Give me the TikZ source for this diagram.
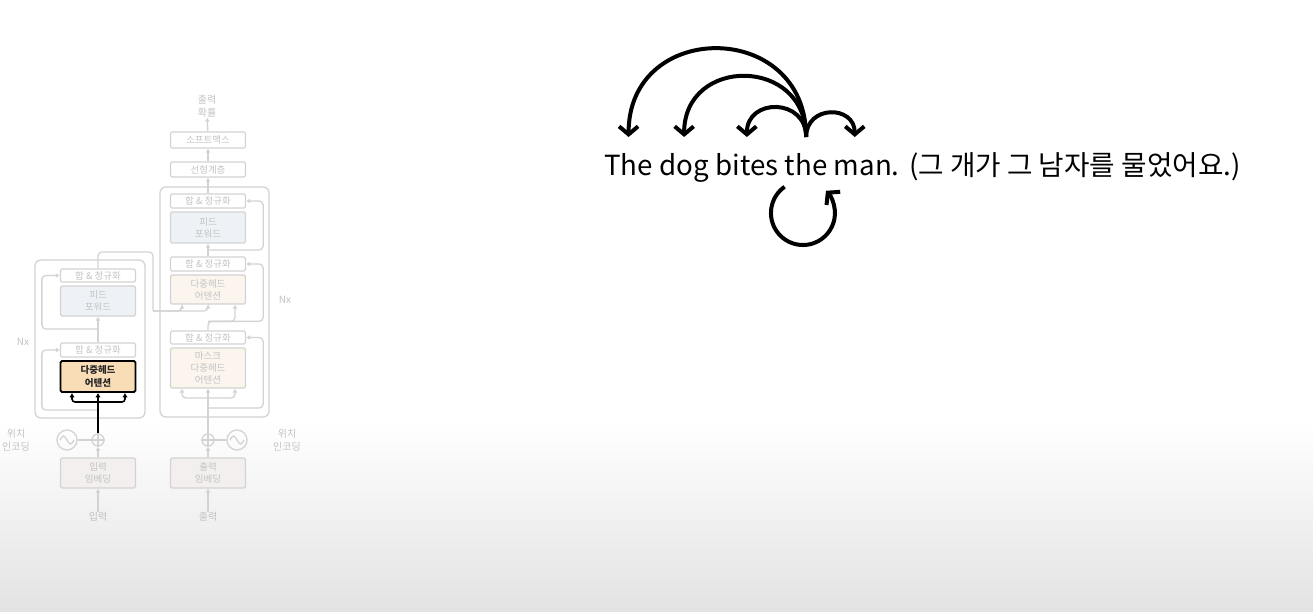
\documentclass[tikz,border=0pt]{standalone}
\usepackage{fontspec}
\setmainfont{Noto Sans CJK KR}
\usepackage{tikz}
\usetikzlibrary{positioning}
\usetikzlibrary {arrows.meta}

\definecolor{fadeline}{HTML}{D3D3D3}
\definecolor{fadetext}{HTML}{C3C3C3}
\definecolor{attnfill}{HTML}{F9DDB6}
\definecolor{ffill}{HTML}{EEF2F7}
\definecolor{dattnfill}{HTML}{FBF5EE}
\definecolor{embfill}{HTML}{F3EFEF}
\definecolor{bgbottom}{HTML}{E3E3E3}

\tikzset{
    blk/.style={draw=fadeline, line width=1.3pt, rounded corners=1.5pt, minimum width=75pt,
        inner sep=0pt, align=center, text=fadetext, fill=white,
        font=\fontsize{9.5}{12}\selectfont},
    fline/.style={draw=fadeline, line width=1.3pt, rounded corners=4pt},
    farr/.style={fline, -{Latex[length=4pt,width=5pt]}},
    harr/.style={draw=black, line width=1.6pt, rounded corners=3pt, -{Latex[length=4.5pt,width=5.5pt]}},
    ftxt/.style={text=fadetext, align=center, inner sep=0pt, font=\fontsize{10}{13.5}\selectfont},
    word/.style={inner sep=0pt, font=\fontsize{27.7}{32}\selectfont},
    bigarr/.style={line width=4pt, -{Straight Barb[length=8pt,width=19pt]}},
}

\begin{document}
\begin{tikzpicture}[x=1pt, y=1pt]
    \useasboundingbox (0,0) rectangle (1313,611);
    \fill[white] (0,0) rectangle (1313,611);
    \shade[top color=white, bottom color=bgbottom] (0,0) rectangle (1313,190);

    %% encoder
    \node[draw=fadeline, line width=1.3pt, rounded corners=6pt, minimum width=110pt, minimum height=158pt] (encbox) at (90,272) {};
    \node[blk, fill=embfill, minimum height=30pt] (eemb) at (98,138) {입력\\임베딩};
    \node[circle, draw=fadeline, line width=1.3pt, minimum size=12pt, inner sep=0pt] (eadd) at (98,171) {};
    \node[circle, draw=fadeline, line width=1.3pt, minimum size=20pt, inner sep=0pt] (epos) at (67,171) {};
    \node[blk, draw=black, line width=1.8pt, fill=attnfill, text=black!85, minimum height=31pt,
          font=\fontsize{9.5}{12.5}\selectfont\bfseries] (eattn) at (98,234.5) {다중헤드\\어텐션};
    \node[blk, minimum height=14pt] (enorm1) at (98,261) {합 \& 정규화};
    \node[blk, fill=ffill, minimum height=30pt] (eff) at (98,310) {피드\\포워드};
    \node[blk, minimum height=13pt] (enorm2) at (98,335.5) {합 \& 정규화};
    \node[ftxt] (inlbl) at (98,94) {입력};
    \node[ftxt] (eposlbl) at (16,171) {위치\\인코딩};
    \node[ftxt] (enx) at (23,269) {Nx};

    %% decoder
    \node[draw=fadeline, line width=1.3pt, rounded corners=6pt, minimum width=109pt, minimum height=230pt] (decbox) at (214.5,309) {};
    \node[blk, fill=embfill, minimum height=30pt] (demb) at (208,138) {출력\\임베딩};
    \node[circle, draw=fadeline, line width=1.3pt, minimum size=12pt, inner sep=0pt] (dadd) at (208,171) {};
    \node[circle, draw=fadeline, line width=1.3pt, minimum size=20pt, inner sep=0pt] (dpos) at (237,171) {};
    \node[blk, fill=dattnfill, minimum height=40pt] (dmask) at (208,243) {마스크\\다중헤드\\어텐션};
    \node[blk, minimum height=13pt] (dnorm1) at (208,273.5) {합 \& 정규화};
    \node[blk, fill=dattnfill, minimum height=29pt] (dattn) at (208,321.5) {다중헤드\\어텐션};
    \node[blk, minimum height=14pt] (dnorm2) at (208,347) {합 \& 정규화};
    \node[blk, fill=ffill, minimum height=31pt] (dff) at (208,383.5) {피드\\포워드};
    \node[blk, minimum height=14pt] (dnorm3) at (208,410) {합 \& 정규화};
    \node[blk, minimum height=15pt] (dlin) at (208,441.5) {선형계층};
    \node[blk, minimum height=16pt] (dsoft) at (208,471) {소프트맥스};
    \node[ftxt] (prob) at (207,505) {출력\\확률};
    \node[ftxt] (outlbl) at (208,94) {출력};
    \node[ftxt] (dposlbl) at (287,171) {위치\\인코딩};
    \node[ftxt] (dnx) at (285,311) {Nx};

    % sine marks, plus signs
    \draw[fadeline, line width=1.3pt] ([xshift=-7pt]epos.center) sin +(3.5,4) cos +(3.5,-4) sin +(3.5,-4) cos +(3.5,4);
    \draw[fadeline, line width=1.3pt] ([xshift=-7pt]dpos.center) sin +(3.5,4) cos +(3.5,-4) sin +(3.5,-4) cos +(3.5,4);
    \draw[fadeline, line width=1.1pt] (eadd.north) -- (eadd.south) (eadd.west) -- (eadd.east);
    \draw[fadeline, line width=1.1pt] (dadd.north) -- (dadd.south) (dadd.west) -- (dadd.east);

    \coordinate (eres1) at (98,201);
    \coordinate (eres2) at (98,282);
    \coordinate (ctop) at (98,359);
    \coordinate (kv) at (153,300);
    \coordinate (mbus) at (208,213);
    \coordinate (mres) at (208,203);
    \coordinate (fres) at (208,361);
    \coordinate (ebus) at (98,209);

    % faded connectors
    \draw[farr] (inlbl) -- (eemb);
    \draw[farr] (eemb) -- (eadd);
    \draw[fline] (epos) -- (eadd);
    \draw[farr] (eres1) -| ([xshift=-18pt]enorm1.west) -- (enorm1.west);
    \draw[farr] (eres2) -| ([xshift=-18pt]enorm2.west) -- (enorm2.west);
    \draw[farr] (enorm1) -- (eff);
    \draw[fline] (enorm2.north) -- (ctop) -| (kv);
    \draw[farr] (kv) -| ([xshift=-26pt]dattn.south);
    \draw[farr] (kv) -| (dattn.south);

    \draw[farr] (outlbl) -- (demb);
    \draw[farr] (demb) -- (dadd);
    \draw[fline] (dpos) -- (dadd);
    \draw[farr] (dadd) -- (dmask);
    \draw[farr] (mbus) -| ([xshift=-26pt]dmask.south);
    \draw[farr] (mbus) -| ([xshift=27pt]dmask.south);
    \draw[farr] (mres) -| ([xshift=17pt]dnorm1.east) -- (dnorm1.east);
    \draw[farr] (dnorm1.north) -- ([yshift=9pt]dnorm1.north) -| ([xshift=27pt]dattn.south);
    \draw[farr] ([yshift=9pt]dnorm1.north) -| ([xshift=17pt]dnorm2.east) -- (dnorm2.east);
    \draw[farr] (dnorm2) -- (dff);
    \draw[farr] (fres) -| ([xshift=17pt]dnorm3.east) -- (dnorm3.east);
    \draw[farr] (dnorm3) -- (dlin);
    \draw[farr] (dlin) -- (dsoft);
    \draw[farr] (dsoft) -- (prob);

    % highlighted input
    \draw[harr] (eadd) -- (eattn);
    \draw[harr] (ebus) -| ([xshift=-26pt]eattn.south);
    \draw[harr] (ebus) -| ([xshift=27pt]eattn.south);

    %% sentence
    \coordinate (arcbase) at (0,474);
    \node[word, anchor=base west] (w1) at (604,435) {The};
    \node[word, base right=6pt of w1] (w2) {dog};
    \node[word, base right=6pt of w2] (w3) {bites};
    \node[word, base right=6pt of w3] (w4) {the};
    \node[word, base right=6pt of w4] (w5) {man.};
    \node[word, base right=9pt of w5] (kor) {(그 개가 그 남자를 물었어요.)};

    \coordinate (src) at (w4 |- arcbase);
    \coordinate (t1) at (w1 |- arcbase);
    \coordinate (t2) at (w2 |- arcbase);
    \coordinate (t3) at (w3 |- arcbase);
    \coordinate (t5) at ([xshift=-12pt]w5.center |- arcbase);
    \draw[bigarr] (src) to[out=90, in=90, looseness=1.7] (t1);
    \draw[bigarr] (src) to[out=90, in=90, looseness=1.7] (t2);
    \draw[bigarr] (src) to[out=90, in=90, looseness=1.7] (t3);
    \draw[bigarr] (src) to[out=90, in=90, looseness=1.7] (t5);

    % self attention loop
    \coordinate (loopstart) at (784.6,424.2);
    \draw[bigarr] (loopstart) arc[start angle=125, end angle=404, radius=32];
\end{tikzpicture}
\end{document}
